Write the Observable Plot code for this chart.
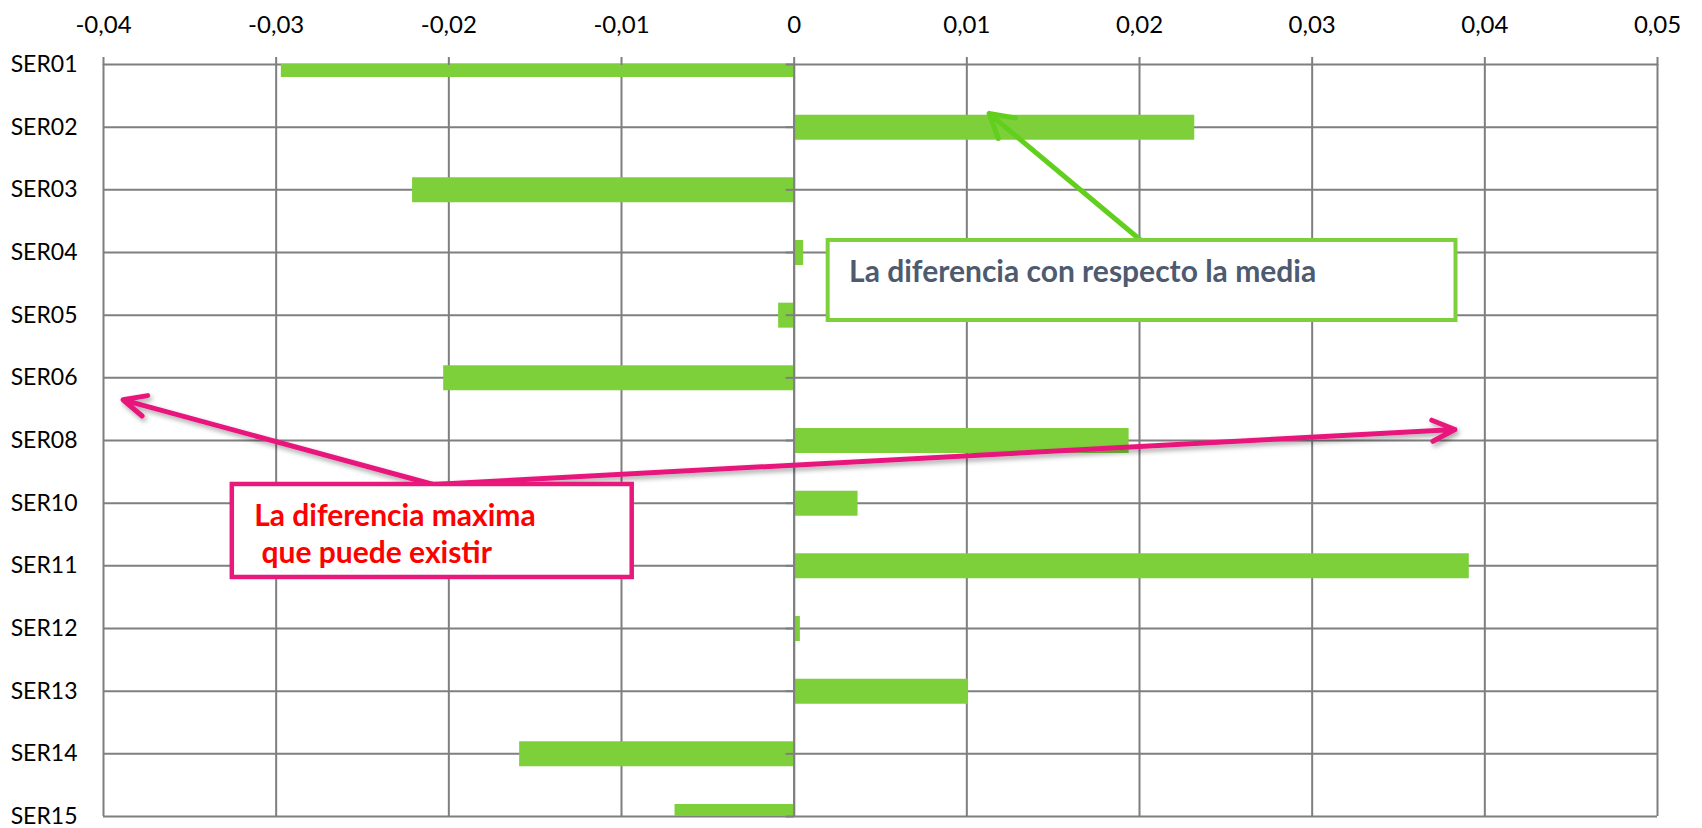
<!DOCTYPE html>
<html>
<head>
<meta charset="utf-8">
<script src="https://cdn.jsdelivr.net/npm/d3@7"></script>
<script src="https://cdn.jsdelivr.net/npm/@observablehq/plot@0.6"></script>
<style>
  html, body { margin: 0; padding: 0; background: #ffffff; }
  #chart svg text { white-space: pre; }
</style>
</head>
<body>
<div id="chart"></div>
<script>
// ---- data ----
const categories = ["SER01","SER02","SER03","SER04","SER05","SER06","SER08","SER10","SER11","SER12","SER13","SER14","SER15"];
const values = [-0.0297, 0.0232, -0.0221, 0.00055, -0.0009, -0.0203, 0.0194, 0.0037, 0.0391, 0.00036, 0.0101, -0.0159, -0.0069];
const xTicks = [-0.04, -0.03, -0.02, -0.01, 0, 0.01, 0.02, 0.03, 0.04, 0.05];

// ---- annotations (data units: x = value, y = category index) ----
const greenBox = [{x1: 0.00197, x2: 0.03833, y1: 2.808, y2: 4.085}];
const greenLabel = [{x: 0.00318, y: 3.319, text: "La diferencia con respecto la media"}];
const greenArrow = [{x1: 0.02009, y1: 2.808, x2: 0.01129, y2: 0.782}];
const pinkBox = [{x1: -0.03254, x2: -0.00938, y1: 6.702, y2: 8.186}];
const pinkLabel = [
  {x: -0.03127, y: 7.213, text: "La diferencia maxima"},
  {x: -0.03127, y: 7.803, text: " que puede existir"}
];
const pinkArrows = [
  {x1: -0.0209, y1: 6.702, x2: -0.03887, y2: 5.351},
  {x1: -0.0209, y1: 6.702, x2: 0.03827, y2: 5.825}
];

const idx = categories.map((c, i) => i);
const bars = categories.map((c, i) => ({category: c, index: i, value: values[i]}));
const fmt = d => d === 0 ? "0" : d.toFixed(2).replace(".", ",");

const GRAY = "#7f7f7f";
const BAR = "#7ED03B";
const PINK = "#E8197B";

const chart = Plot.plot({
  width: 1702,
  height: 828,
  marginLeft: 103,
  marginRight: 45,
  marginTop: 64,
  marginBottom: 12,
  style: {fontFamily: "Lato, 'Open Sans', sans-serif", background: "#ffffff", color: "#000000", overflow: "visible"},
  x: {domain: [-0.04, 0.05]},
  y: {domain: [0, 12], reverse: true},
  marks: [
    Plot.gridX(xTicks, {stroke: GRAY, strokeOpacity: 1, strokeWidth: 2}),
    Plot.gridY(idx, {stroke: GRAY, strokeOpacity: 1, strokeWidth: 2}),
    Plot.ruleY(bars, {y: "index", x1: 0, x2: "value", stroke: BAR, strokeWidth: 25, clip: true}),
    Plot.ruleX([0], {stroke: GRAY, strokeWidth: 2}),
    Plot.ruleY(idx, {y: d => d, x1: 0, x2: 0, insetLeft: -8, stroke: GRAY, strokeWidth: 2}),
    Plot.axisX(xTicks, {anchor: "top", tickSize: 8, tickPadding: 24, tickFormat: fmt, fontSize: 24, stroke: GRAY, strokeWidth: 2}),
    Plot.axisY(idx, {anchor: "left", tickSize: 0, tickPadding: 26, tickFormat: i => categories[i], fontSize: 23}),
    // annotations
    Plot.arrow(greenArrow, {x1: "x1", y1: "y1", x2: "x2", y2: "y2", stroke: "#62CF1E", strokeWidth: 5, headLength: 8, headAngle: 60}),
    Plot.rect(greenBox, {x1: "x1", x2: "x2", y1: "y1", y2: "y2", fill: "#ffffff", stroke: BAR, strokeWidth: 4}),
    Plot.text(greenLabel, {x: "x", y: "y", text: "text", textAnchor: "start", lineAnchor: "middle", fontSize: 30, fontWeight: "bold", fill: "#4D5A70"}),
    Plot.arrow(pinkArrows, {x1: "x1", y1: "y1", x2: "x2", y2: "y2", stroke: PINK, strokeWidth: 5, headLength: 7.5, headAngle: 50}),
    Plot.rect(pinkBox, {x1: "x1", x2: "x2", y1: "y1", y2: "y2", fill: "#ffffff", stroke: PINK, strokeWidth: 4.5}),
    Plot.text(pinkLabel, {x: "x", y: "y", text: "text", textAnchor: "start", lineAnchor: "middle", fontSize: 30, fontWeight: "bold", fill: "#FF0000"})
  ]
});

// soft drop shadow on the pink arrows
const svg = d3.select(chart);
const defs = svg.insert("defs", ":first-child");
const f = defs.append("filter").attr("id", "arrowShadow").attr("x", "-10%").attr("y", "-50%").attr("width", "120%").attr("height", "200%");
f.append("feDropShadow").attr("dx", 2).attr("dy", 3).attr("stdDeviation", 2.5).attr("flood-color", "#000").attr("flood-opacity", 0.35);
const arrows = svg.selectAll('g[aria-label="arrow"]').nodes();
if (arrows.length > 1) d3.select(arrows[1]).attr("filter", "url(#arrowShadow)");

document.getElementById("chart").appendChild(chart);
</script>
</body>
</html>
